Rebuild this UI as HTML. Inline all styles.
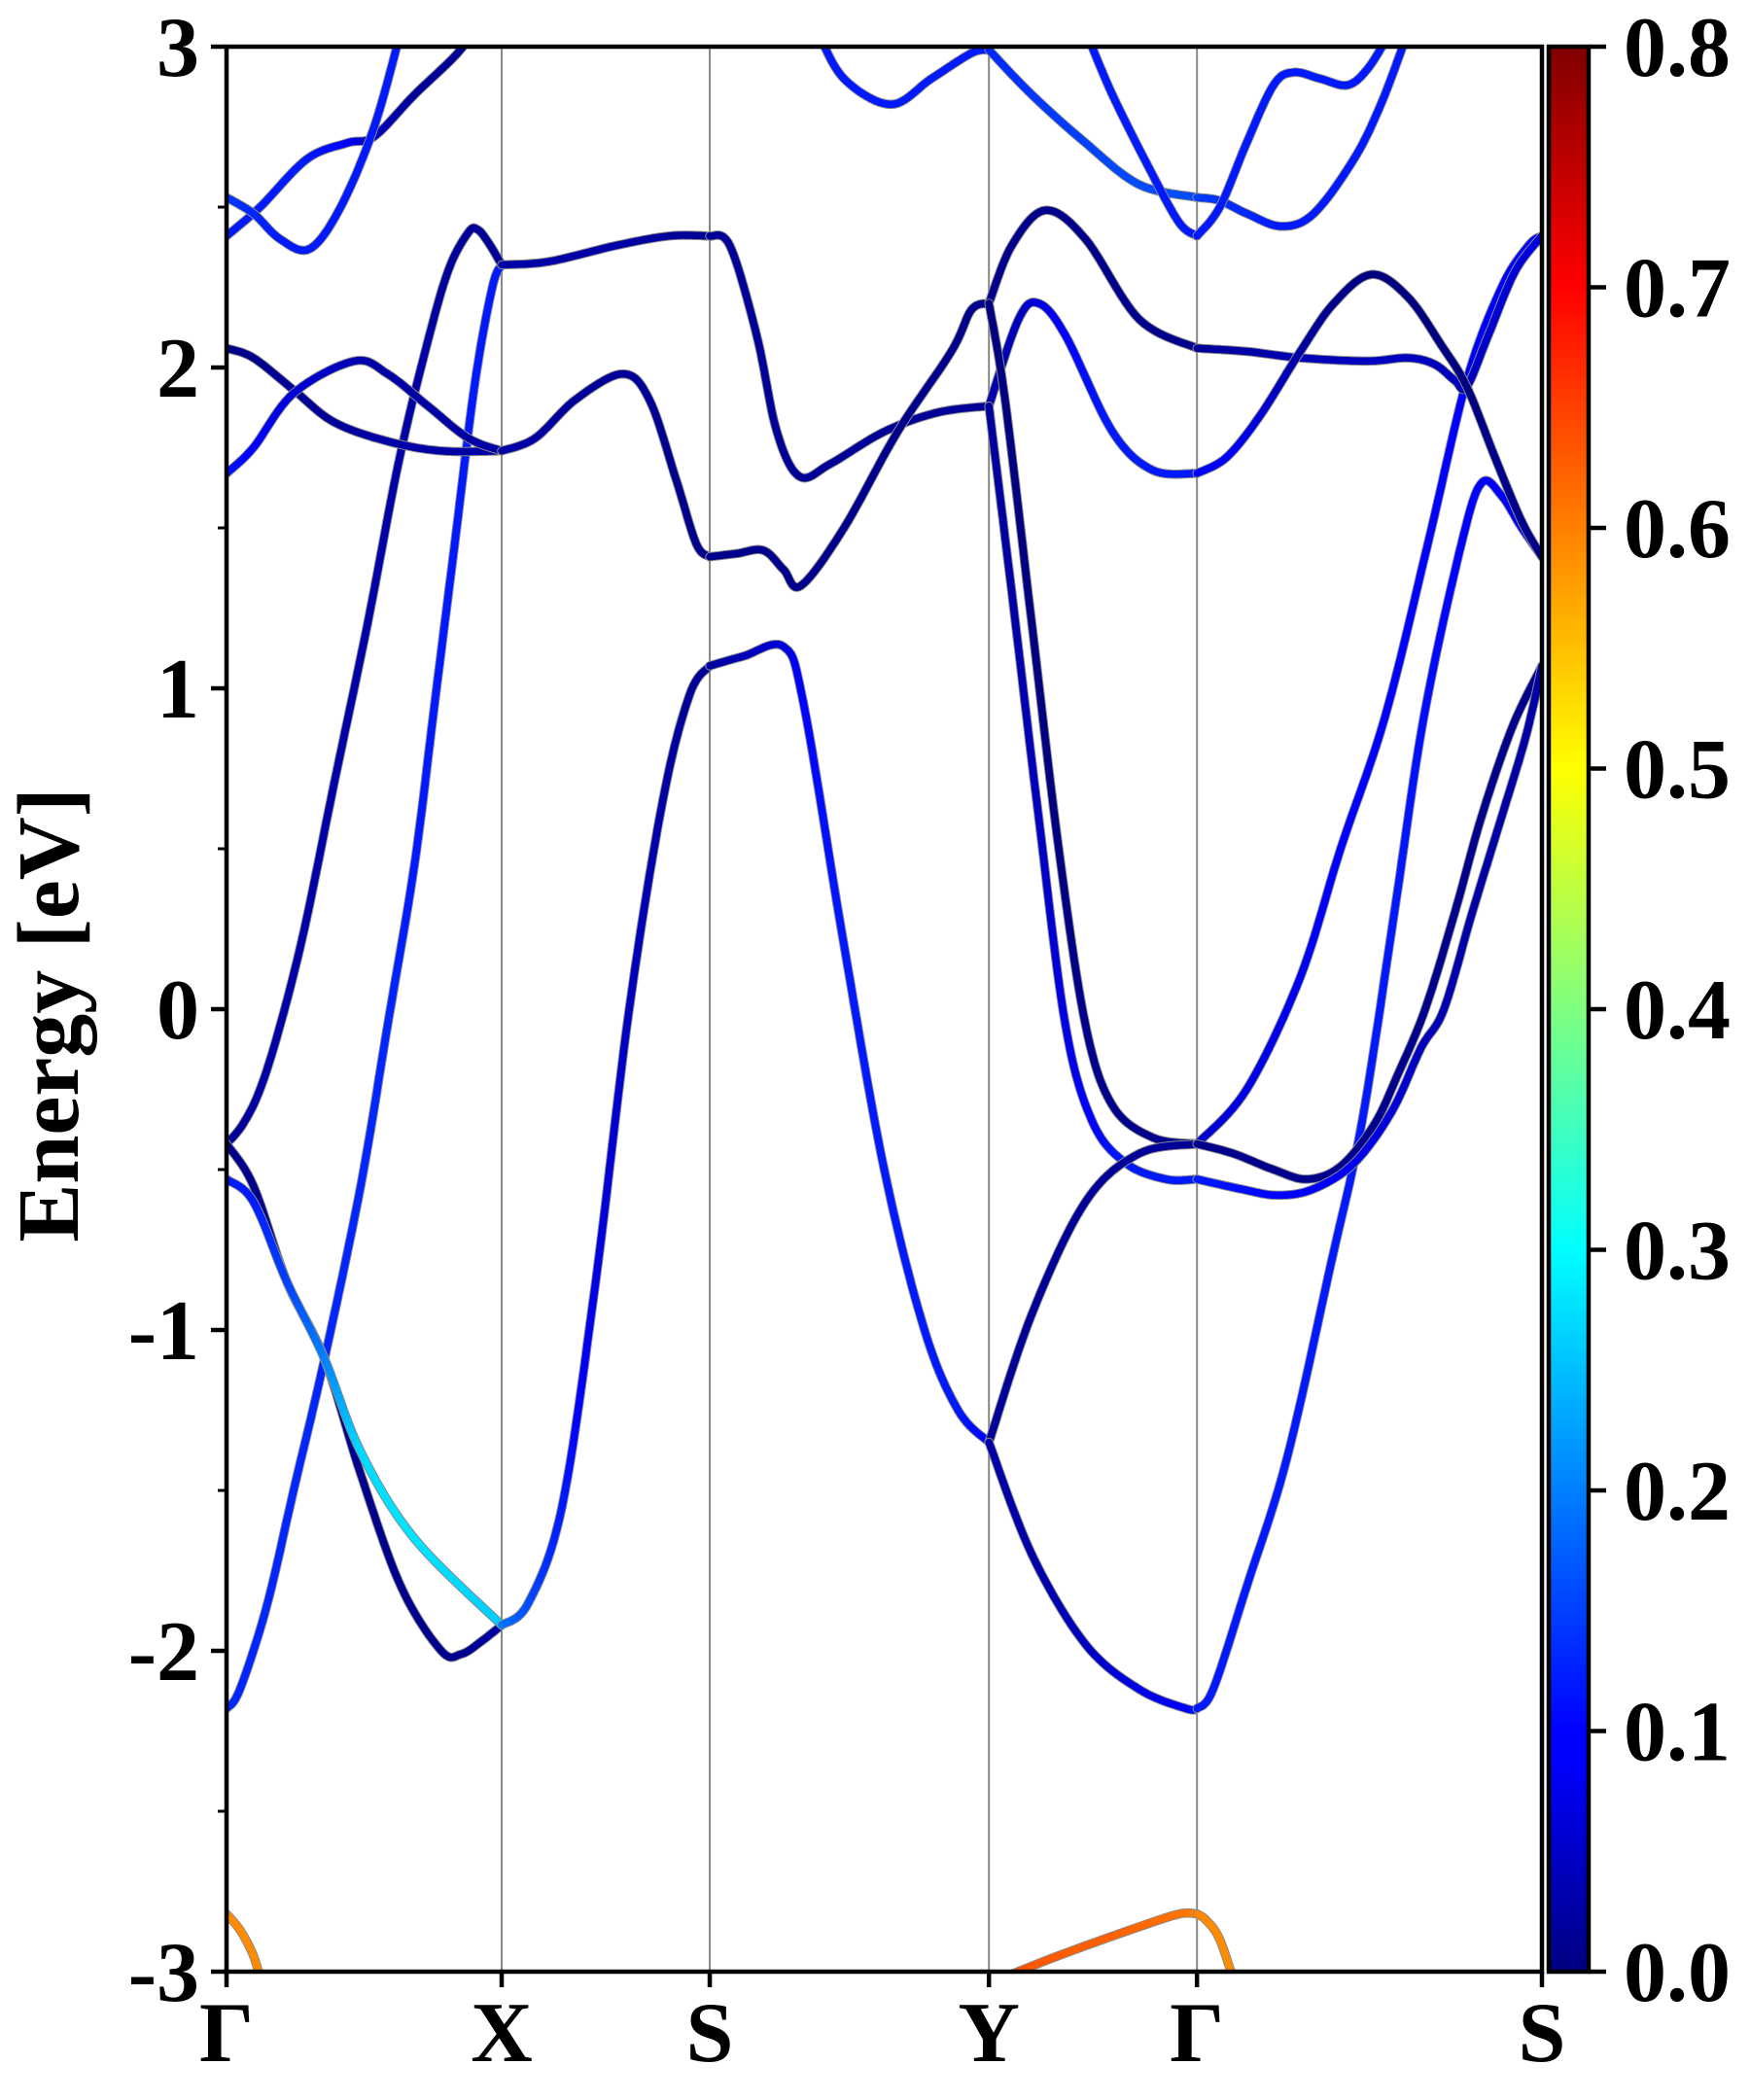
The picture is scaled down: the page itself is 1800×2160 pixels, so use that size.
<!DOCTYPE html>
<html><head><meta charset="utf-8"><style>
html,body{margin:0;padding:0;background:#fff;}
svg{display:block;font-family:"Liberation Serif","Times New Roman",serif;font-weight:bold;}
</style></head><body>
<svg id="chart" width="1800" height="2160" viewBox="0 0 1800 2160" xmlns="http://www.w3.org/2000/svg">
<defs>
<clipPath id="plotclip"><rect x="233" y="48" width="1353" height="1980"/></clipPath>
<linearGradient id="jet" x1="0" y1="1" x2="0" y2="0">
<stop offset="0" stop-color="#000080"/><stop offset="0.11" stop-color="#0000ff"/>
<stop offset="0.125" stop-color="#0000ff"/><stop offset="0.375" stop-color="#00ffff"/>
<stop offset="0.625" stop-color="#ffff00"/><stop offset="0.875" stop-color="#ff0000"/>
<stop offset="1" stop-color="#800000"/></linearGradient>
</defs>
<g id="hsym"></g>
<g id="bands" clip-path="url(#plotclip)"></g>
<rect x="233" y="48" width="1353" height="1980" fill="none" stroke="#000" stroke-width="4.5"/>
<g id="yaxis"></g>
<g id="xaxis"></g>
<text x="0" y="0" transform="translate(80,1044) rotate(-90)" text-anchor="middle" font-size="90">Energy [eV]</text>
<rect x="1593" y="48" width="41" height="1980" fill="url(#jet)" stroke="#000" stroke-width="4.5"/>
<g id="cbar"></g>
</svg>
<script>
// ---- data ----
const yTicks = [3, 2, 1, 0, -1, -2, -3];
const yMinor = [2.5, 1.5, 0.5, -0.5, -1.5, -2.5];
const kLabels = ["Γ", "X", "S", "Y", "Γ", "S"];
const kTicks = [0, 205, 360, 568, 723, 980];
const cbTicks = [0.0, 0.1, 0.2, 0.3, 0.4, 0.5, 0.6, 0.7, 0.8];
// bands: k path distance, energy (eV), weight
const b1k = [0,10,30,50,73,100,120,140,155,170,185,198,205];
const b1e = [-2.18,-2.12,-1.86,-1.5,-1.09,-0.55,-0.05,0.45,0.95,1.45,1.95,2.25,2.32];
const b1w = [0.13,0.13,0.13,0.13,0.13,0.13,0.13,0.12,0.12,0.12,0.12,0.12,0.12];
const b2k = [0,12,25,40,58,80,105,128,148,165,180,187,195,205];
const b2e = [-0.42,-0.36,-0.25,-0.05,0.25,0.7,1.2,1.7,2.05,2.3,2.42,2.43,2.39,2.32];
const b2w = [0.02,0.02,0.03,0.03,0.03,0.03,0.03,0.03,0.03,0.02,0.02,0.02,0.02,0.02];
const b3k = [0,20,45,73,100,130,160,175,190,205];
const b3e = [-0.42,-0.55,-0.85,-1.09,-1.45,-1.8,-2.0,-2.01,-1.97,-1.92];
const b3w = [0.01,0.01,0.01,0.01,0.01,0.01,0.01,0.01,0.02,0.03];
const b4k = [0,20,45,73,100,140,205];
const b4e = [-0.53,-0.6,-0.85,-1.09,-1.38,-1.65,-1.92];
const b4w = [0.12,0.12,0.15,0.2,0.27,0.28,0.26];
const b5k = [0,20,50,80,120,160,205];
const b5e = [2.06,2.03,1.93,1.83,1.77,1.74,1.74];
const b5w = [0.01,0.01,0.02,0.02,0.03,0.03,0.03];
const b6k = [0,20,50,95,120,150,180,205];
const b6e = [1.67,1.75,1.92,2.02,1.98,1.88,1.78,1.74];
const b6w = [0.12,0.1,0.07,0.04,0.03,0.03,0.03,0.03];
const b7k = [0,25,60,90,110,140,170,185];
const b7e = [2.41,2.5,2.65,2.7,2.72,2.85,2.97,3.05];
const b7w = [0.12,0.12,0.12,0.1,0.05,0.02,0.02,0.02];
const b8k = [0,20,40,62,85,110,130];
const b8e = [2.53,2.48,2.4,2.37,2.5,2.75,3.05];
const b8w = [0.15,0.13,0.12,0.12,0.12,0.12,0.12];
const b9k = [205,240,290,330,360];
const b9e = [2.32,2.33,2.38,2.41,2.41];
const b9w = [0.03,0.03,0.03,0.02,0.02];
const b10k = [205,230,260,295,315,335,350,360];
const b10e = [1.74,1.78,1.9,1.98,1.9,1.65,1.45,1.41];
const b10w = [0.03,0.03,0.02,0.02,0.02,0.01,0.01,0.01];
const b11k = [205,225,250,275,300,325,345,360];
const b11e = [-1.92,-1.85,-1.55,-0.85,0.0,0.65,0.98,1.07];
const b11w = [0.2,0.16,0.12,0.08,0.05,0.03,0.02,0.02];
const b12k = [360,375,395,410,427,450,490,530,568];
const b12e = [2.41,2.38,2.1,1.8,1.66,1.7,1.8,1.86,1.88];
const b12w = [0.02,0.02,0.02,0.02,0.02,0.02,0.02,0.02,0.02];
const b13k = [360,380,400,415,428,460,500,540,555,568];
const b13e = [1.41,1.42,1.43,1.37,1.32,1.5,1.8,2.05,2.18,2.2];
const b13w = [0.01,0.01,0.01,0.01,0.01,0.01,0.01,0.01,0.01,0.01];
const b14k = [360,385,415,430,460,490,520,545,568];
const b14e = [1.07,1.1,1.13,0.95,0.2,-0.5,-1.0,-1.25,-1.35];
const b14w = [0.02,0.04,0.07,0.1,0.12,0.12,0.12,0.12,0.1];
const b15k = [440,460,495,525,555,568];
const b15e = [3.05,2.9,2.82,2.9,2.98,2.99];
const b15w = [0.12,0.12,0.12,0.12,0.12,0.12];
const b16k = [568,600,640,680,723];
const b16e = [2.99,2.85,2.7,2.57,2.53];
const b16w = [0.13,0.14,0.15,0.16,0.16];
const b17k = [640,660,690,710,723];
const b17e = [3.05,2.85,2.6,2.45,2.41];
const b17w = [0.12,0.12,0.12,0.12,0.12];
const b18k = [568,585,610,640,680,723];
const b18e = [2.2,2.38,2.49,2.4,2.15,2.06];
const b18w = [0.01,0.01,0.01,0.01,0.01,0.01];
const b19k = [568,590,605,625,660,690,723];
const b19e = [1.88,2.15,2.2,2.1,1.8,1.68,1.67];
const b19w = [0.03,0.05,0.07,0.1,0.12,0.12,0.12];
const b20k = [568,585,605,625,645,670,700,723];
const b20e = [1.88,1.3,0.6,-0.05,-0.35,-0.48,-0.53,-0.53];
const b20w = [0.02,0.03,0.05,0.08,0.1,0.12,0.12,0.12];
const b21k = [568,580,600,620,640,660,690,723];
const b21e = [2.2,1.9,1.2,0.5,-0.05,-0.3,-0.4,-0.42];
const b21w = [0.0,0.0,0.0,0.0,0.01,0.01,0.01,0.01];
const b22k = [568,600,640,680,723];
const b22e = [-1.35,-0.95,-0.6,-0.45,-0.42];
const b22w = [0.02,0.02,0.02,0.02,0.02];
const b23k = [568,600,640,680,715,723];
const b23e = [-1.35,-1.7,-1.98,-2.12,-2.18,-2.18];
const b23w = [0.03,0.03,0.05,0.08,0.1,0.12];
const b24k = [560,620,680,710,723];
const b24e = [-3.05,-2.95,-2.86,-2.82,-2.82];
const b24w = [0.64,0.63,0.62,0.61,0.6];
const b25k = [723,730,740,752];
const b25e = [-2.82,-2.84,-2.9,-3.05];
const b25w = [0.6,0.59,0.59,0.59];
const b26k = [0,10,20,27];
const b26e = [-2.82,-2.87,-2.95,-3.05];
const b26w = [0.59,0.59,0.59,0.59];
const b27k = [723,760,800,830,863,895,924,950,970,980];
const b27e = [-0.42,-0.25,0.1,0.5,0.91,1.45,1.96,2.25,2.38,2.41];
const b27w = [0.06,0.08,0.09,0.1,0.1,0.1,0.1,0.1,0.1,0.1];
const b28k = [723,735,760,790,823,846,870,892,920,935,950,965,980];
const b28e = [-2.18,-2.12,-1.8,-1.4,-0.79,-0.35,0.3,0.91,1.45,1.64,1.6,1.5,1.41];
const b28w = [0.12,0.12,0.12,0.12,0.12,0.12,0.12,0.11,0.1,0.1,0.1,0.09,0.09];
const b29k = [723,750,780,805,830,855,873,893,915,935,958,980];
const b29e = [-0.42,-0.45,-0.5,-0.53,-0.49,-0.36,-0.2,0.0,0.3,0.6,0.88,1.07];
const b29w = [0.01,0.01,0.01,0.01,0.01,0.01,0.01,0.01,0.01,0.01,0.01,0.01];
const b30k = [723,755,783,810,840,868,890,907,928,950,968,980];
const b30e = [-0.53,-0.56,-0.58,-0.56,-0.48,-0.32,-0.12,0.0,0.3,0.6,0.85,1.07];
const b30w = [0.12,0.11,0.1,0.1,0.09,0.07,0.05,0.04,0.03,0.03,0.03,0.03];
const b31k = [723,760,800,850,880,900,915,924,940,960,980];
const b31e = [2.06,2.05,2.03,2.02,2.03,2.01,1.96,1.94,2.1,2.3,2.41];
const b31w = [0.02,0.03,0.04,0.05,0.05,0.05,0.05,0.05,0.06,0.07,0.08];
const b32k = [723,745,770,800,825,853,880,905,924,945,965,980];
const b32e = [1.67,1.72,1.85,2.05,2.2,2.29,2.22,2.07,1.94,1.72,1.52,1.41];
const b32w = [0.1,0.1,0.07,0.03,0.01,0.0,0.0,0.0,0.0,0.01,0.01,0.01];
const b33k = [723,740,760,786,810,840,860,878];
const b33e = [2.53,2.52,2.48,2.44,2.48,2.65,2.82,3.02];
const b33w = [0.15,0.14,0.13,0.12,0.12,0.12,0.12,0.12];
const b34k = [723,740,760,780,795,815,835,850,865];
const b34e = [2.41,2.5,2.7,2.88,2.92,2.9,2.88,2.93,3.03];
const b34w = [0.12,0.12,0.12,0.12,0.12,0.12,0.12,0.12,0.12];
const bandsK = [b1k,b2k,b3k,b4k,b5k,b6k,b7k,b8k,b9k,b10k,b11k,b12k,b13k,b14k,b15k,b16k,b17k,b18k,b19k,b20k,b21k,b22k,b23k,b24k,b25k,b26k,b27k,b28k,b29k,b30k,b31k,b32k,b33k,b34k];
const bandsE = [b1e,b2e,b3e,b4e,b5e,b6e,b7e,b8e,b9e,b10e,b11e,b12e,b13e,b14e,b15e,b16e,b17e,b18e,b19e,b20e,b21e,b22e,b23e,b24e,b25e,b26e,b27e,b28e,b29e,b30e,b31e,b32e,b33e,b34e];
const bandsW = [b1w,b2w,b3w,b4w,b5w,b6w,b7w,b8w,b9w,b10w,b11w,b12w,b13w,b14w,b15w,b16w,b17w,b18w,b19w,b20w,b21w,b22w,b23w,b24w,b25w,b26w,b27w,b28w,b29w,b30w,b31w,b32w,b33w,b34w];

// ---- axes ----
const X0 = 233, X1 = 1586, Y0 = 48, Y1 = 2028, KMAX = 980, EMIN = -3, EMAX = 3, WMAX = 0.8;
function xScale(k){ return X0 + k * (X1 - X0) / KMAX; }
function yScale(e){ return Y0 + (EMAX - e) * (Y1 - Y0) / (EMAX - EMIN); }
function cScale(w){ return Y1 - w * (Y1 - Y0) / WMAX; }
function jet(w){
  const t = Math.max(0, Math.min(1, w / WMAX));
  const f = v => Math.max(0, Math.min(1, v));
  const r = f(Math.min(4*t - 1.5, -4*t + 4.5));
  const g = f(Math.min(4*t - 0.5, -4*t + 3.5));
  const b = f(Math.min(4*t + 0.5, -4*t + 2.5));
  return `rgb(${Math.round(r*255)},${Math.round(g*255)},${Math.round(b*255)})`;
}
const NS = "http://www.w3.org/2000/svg";
function mk(tag, attrs, parent){
  const el = document.createElementNS(NS, tag);
  for (const a in attrs) el.setAttribute(a, attrs[a]);
  parent.appendChild(el); return el;
}
const hs = document.getElementById('hsym');
kTicks.slice(1, -1).forEach((k) => {
  const l = mk('line', {x1:xScale(k), x2:xScale(k), y1:Y0, y2:Y1, stroke:'#888', 'stroke-width':2}, hs);
  
  
});
const ya = document.getElementById('yaxis');
yTicks.forEach((v) => {
  const y = yScale(v);
  const t = mk('line', {x1:X0-16, x2:X0, y1:y, y2:y, stroke:'#000', 'stroke-width':4.5}, ya);
  
  
  const tx = mk('text', {x:X0-28, y:y+30, 'text-anchor':'end', 'font-size':88}, ya);
  tx.textContent = String(v);
  
  
});
yMinor.forEach((v) => {
  const y = yScale(v);
  const t = mk('line', {x1:X0-9, x2:X0, y1:y, y2:y, stroke:'#000', 'stroke-width':3}, ya);
  
  
});
const xa = document.getElementById('xaxis');
kTicks.forEach((k, i) => {
  const x = xScale(k);
  const t = mk('line', {x1:x, x2:x, y1:Y1, y2:Y1+16, stroke:'#000', 'stroke-width':4.5}, xa);
  
  
  const tx = mk('text', {x:x, y:2120, 'text-anchor':'middle', 'font-size':88}, xa);
  tx.textContent = kLabels[i];
  
  
});
const cb = document.getElementById('cbar');
cbTicks.forEach((v) => {
  const y = cScale(v);
  const t = mk('line', {x1:1634, x2:1652, y1:y, y2:y, stroke:'#000', 'stroke-width':4.5}, cb);
  
  
  const tx = mk('text', {x:1670, y:y+30, 'text-anchor':'start', 'font-size':88}, cb);
  tx.textContent = v.toFixed(1);
  
  
});

// ---- bands (Catmull-Rom smoothing, per-piece color) ----
const bg = document.getElementById('bands');
function interp(ks, es, ws, i, t){
  const n = ks.length;
  const p = j => [xScale(ks[Math.max(0,Math.min(n-1,j))]), yScale(es[Math.max(0,Math.min(n-1,j))])];
  const P0 = p(i-1), P1 = p(i), P2 = p(i+1), P3 = p(i+2);
  const t2 = t*t, t3 = t2*t;
  const c = (a,b,c_,d) => 0.5*((2*b) + (-a+c_)*t + (2*a-5*b+4*c_-d)*t2 + (-a+3*b-3*c_+d)*t3);
  return [c(P0[0],P1[0],P2[0],P3[0]), c(P0[1],P1[1],P2[1],P3[1]), ws[i] + (ws[i+1]-ws[i])*t];
}
bandsK.forEach((ks, bi) => {
  const es = bandsE[bi], ws = bandsW[bi];
  const g = mk('g', {}, bg);
  
  
  const pts = [];
  for (let i = 0; i < ks.length - 1; i++) {
    for (let s = 0; s < 12; s++) pts.push(interp(ks, es, ws, i, s/12));
  }
  pts.push([xScale(ks[ks.length-1]), yScale(es[es.length-1]), ws[ws.length-1]]);
  const d = pts.map((q, j) => (j ? 'L' : 'M') + q[0].toFixed(1) + ' ' + q[1].toFixed(1)).join('');
  mk('path', {d:d, fill:'none', stroke:'#8a8a8a', 'stroke-width':9.5, 'stroke-linecap':'round', 'stroke-linejoin':'round'}, g);
  for (let j = 0; j < pts.length - 1; j++) {
    const a = pts[j], b = pts[j+1];
    mk('line', {x1:a[0].toFixed(1), y1:a[1].toFixed(1), x2:b[0].toFixed(1), y2:b[1].toFixed(1), stroke:jet((a[2]+b[2])/2), 'stroke-width':7.5, 'stroke-linecap':'round'}, g);
  }
});
</script>
</body></html>
